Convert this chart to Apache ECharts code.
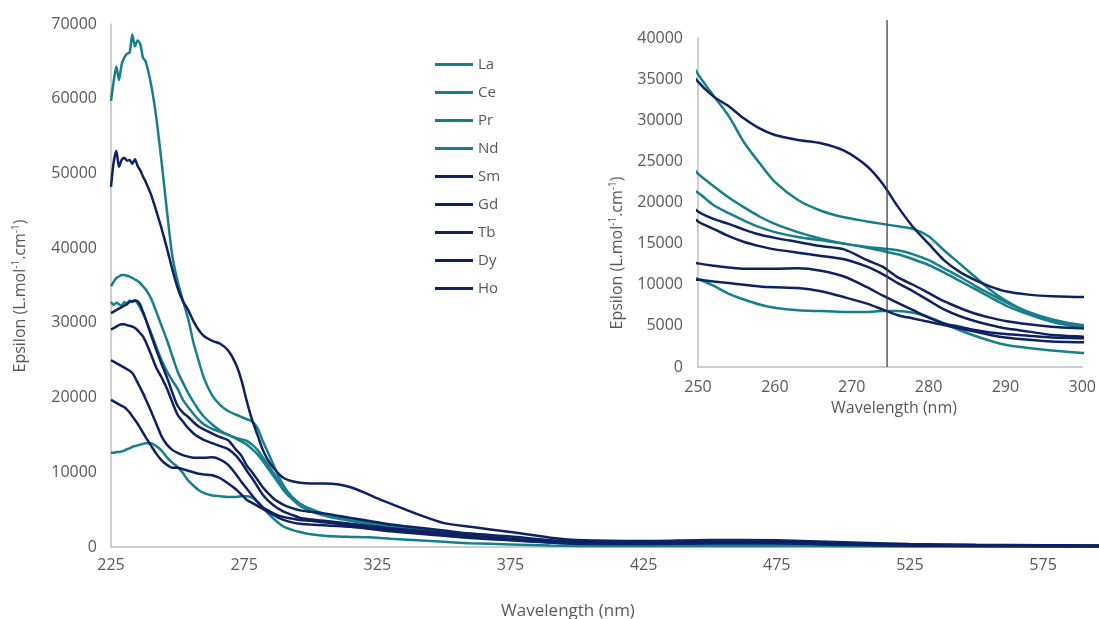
<!DOCTYPE html>
<html><head><meta charset="utf-8">
<script src="https://cdn.jsdelivr.net/npm/echarts@6/dist/echarts.min.js"></script>
<style>html,body{margin:0;padding:0;background:#fff}#c{width:1099px;height:619px}</style>
</head><body><div id="c"></div>
<script>
// Wavelength grid (nm)
const wavelengths = [225,226,227,228,229,230,231,232,233,234,235,236,237,238,240,242,244,246,248,
  250,252,254,256,258,260,263,266,269,272,274,276,278,280,282,284,286,288,290,293,296,300,
  305,310,315,320,325,330,340,350,360,375,390,400,425,450,475,500,525,550,575,600];

// Epsilon values (L.mol-1.cm-1)
const La = [59700,62300,64300,62500,64600,65500,66000,66200,68600,67000,67800,67300,65500,65000,62000,57500,51500,45000,39000,
  35600,33000,30500,27300,24800,22500,20300,19000,18200,17700,17400,17100,16800,15900,14200,12600,11000,9400,8100,6600,5700,5100,
  4400,3900,3600,3300,3000,2800,2400,2000,1600,1100,700,550,400,450,400,300,200,150,120,100];
const Ce = [34900,35500,36000,36200,36400,36400,36300,36200,36000,35800,35600,35300,34900,34500,33300,31500,29600,27700,25600,
  23500,22000,20600,19400,18300,17400,16400,15600,15000,14600,14400,14200,13700,13000,12000,11000,9900,8900,7900,6700,5800,5000,
  4400,4000,3700,3400,3200,2900,2400,2000,1500,1000,650,500,450,550,500,350,250,180,150,120];
const Pr = [32800,32400,32700,32500,32300,32800,32600,33000,32800,33000,32600,32000,31300,30500,28700,26800,25000,23500,22300,
  21200,19700,18700,17800,17000,16400,15800,15400,15000,14500,14100,13700,13100,12400,11500,10500,9500,8500,7500,6400,5500,4800,
  4200,3800,3500,3200,3000,2700,2200,1800,1400,950,600,450,350,450,400,300,200,150,120,100];
const Nd = [12600,12600,12700,12700,12800,12900,13100,13200,13400,13500,13600,13700,13800,13900,13900,13500,12900,12000,11300,
  10700,9900,8900,8200,7600,7200,6900,6800,6700,6700,6800,6800,6600,6100,5300,4500,3800,3200,2700,2300,2000,1700,
  1500,1400,1350,1300,1250,1100,900,700,500,350,200,150,120,150,150,100,80,60,50,50];
const Sm = [48200,51500,53000,50900,51800,52100,51700,51800,51300,51900,51000,50400,49600,48900,47200,45000,42600,40000,37200,
  34700,32900,31700,30200,29000,28200,27600,27200,26300,24400,22300,19500,17000,15000,13000,11600,10600,9800,9200,8800,8600,8500,
  8500,8400,8000,7300,6500,5800,4400,3200,2700,2000,1250,950,800,950,900,650,400,300,250,200];
const Gd = [31300,31500,31700,31900,32100,32300,32500,32800,32900,33000,32900,32400,31500,30500,28400,26400,24500,22700,20700,
  18900,18000,17400,16700,16100,15700,15200,14700,14300,13000,12200,10900,10000,9000,8000,7200,6500,6000,5600,5200,4900,4700,
  4500,4200,3900,3600,3300,3000,2600,2200,1800,1400,900,700,600,700,700,500,300,220,180,150];
const Tb = [29100,29300,29500,29700,29800,29800,29700,29600,29500,29300,29000,28600,28200,27500,25800,24000,22700,21200,19400,
  17700,16800,15900,15200,14700,14300,13900,13500,13100,12200,11300,10200,9200,8100,7000,6200,5600,5100,4700,4300,3900,3700,
  3500,3300,3100,2900,2700,2500,2200,1900,1500,1100,700,550,500,600,600,400,250,180,150,120];
const Dy = [25000,24800,24600,24400,24200,24000,23800,23600,23300,22700,22000,21300,20600,19800,18200,16500,14800,13700,13000,
  12600,12300,12100,11950,11950,11950,12000,11700,11000,9700,8700,7800,6900,6000,5300,4900,4500,4200,4000,3800,3600,3500,
  3300,3100,2900,2700,2500,2300,2000,1700,1300,1000,650,500,450,550,550,350,220,160,130,100];
const Ho = [19700,19500,19300,19100,18900,18700,18400,18000,17500,17000,16500,15900,15300,14700,13600,12500,11600,11000,10600,
  10600,10400,10200,10000,9800,9700,9600,9200,8500,7700,7000,6300,5900,5500,5100,4700,4300,3900,3600,3300,3100,3000,
  2900,2800,2700,2500,2300,2100,1800,1500,1200,900,600,450,400,500,500,300,200,150,120,100];

const seriesNames = ['La','Ce','Pr','Nd','Sm','Gd','Tb','Dy','Ho'];
const seriesValues = [La, Ce, Pr, Nd, Sm, Gd, Tb, Dy, Ho];
const mainXLabels = [225,275,325,375,425,475,525,575];
const insetMarkerWavelength = 274.6;

const TEAL = '#177E8C', NAVY = '#0E2262';
const seriesColors = [TEAL, TEAL, TEAL, TEAL, NAVY, NAVY, NAVY, NAVY, NAVY];
const LABEL = '#595959';
const FONT = '"Open Sans", "Noto Sans", sans-serif';

const chart = echarts.init(document.getElementById('c'), null, {renderer: 'canvas'});

const series = [];
seriesNames.forEach((name, i) => {
  const pts = wavelengths.map((w, k) => [w, seriesValues[i][k]]);
  series.push({name, type: 'line', xAxisIndex: 0, yAxisIndex: 0, data: pts, showSymbol: false, symbol: 'none',
    smooth: 0.25, lineStyle: {width: 2.5, color: seriesColors[i]}, itemStyle: {color: seriesColors[i]}, z: 2 + i});
  series.push({name, type: 'line', xAxisIndex: 1, yAxisIndex: 1, data: pts, showSymbol: false, symbol: 'none',
    smooth: 0.25, lineStyle: {width: 2.5, color: seriesColors[i]}, itemStyle: {color: seriesColors[i]}, z: 2 + i});
});
series.push({name: 'marker', type: 'line', xAxisIndex: 1, yAxisIndex: 1, clip: false, symbol: 'none',
  data: [[insetMarkerWavelength, 0], [insetMarkerWavelength, 42200]],
  lineStyle: {width: 1.3, color: '#404040'}, z: 20, silent: true});

const yTitle = '{a|Epsilon (L.mol}{s|-1}{a|.cm}{s|-1}{a|)}';
const titleRich = (fs) => ({a: {fontSize: fs, fontFamily: FONT, color: LABEL},
                            s: {fontSize: Math.round(fs*0.62), fontFamily: FONT, color: LABEL, padding: [0,0,Math.round(fs*0.5),0]}});
const plain = v => String(v);

chart.setOption({
  animation: false,
  backgroundColor: '#fff',
  grid: [
    {left: 111, right: 0, top: 24, bottom: 72},
    {left: 698, right: 13, top: 38, bottom: 252}
  ],
  xAxis: [
    {type: 'value', gridIndex: 0, min: 225, max: 596, interval: 25,
      axisLine: {lineStyle: {color: '#BFBFBF', width: 1.5}}, axisTick: {show: false}, splitLine: {show: false},
      axisLabel: {color: LABEL, fontSize: 16, fontFamily: FONT, margin: 10, showMaxLabel: false,
        formatter: v => (mainXLabels.indexOf(v) >= 0 ? String(v) : '')}},
    {type: 'value', gridIndex: 1, min: 250, max: 300, interval: 10,
      axisLine: {lineStyle: {color: '#BFBFBF', width: 1.5}}, axisTick: {show: false}, splitLine: {show: false},
      axisLabel: {color: LABEL, fontSize: 16, fontFamily: FONT, margin: 12, formatter: plain}}
  ],
  yAxis: [
    {type: 'value', gridIndex: 0, min: 0, max: 70000, interval: 10000,
      axisLine: {show: true, lineStyle: {color: '#BFBFBF', width: 1.5}}, axisTick: {show: false}, splitLine: {show: false},
      axisLabel: {color: LABEL, fontSize: 16, fontFamily: FONT, margin: 14, formatter: plain}},
    {type: 'value', gridIndex: 1, min: 0, max: 40000, interval: 5000,
      axisLine: {show: true, lineStyle: {color: '#BFBFBF', width: 1.5}}, axisTick: {show: false}, splitLine: {show: false},
      axisLabel: {color: LABEL, fontSize: 16, fontFamily: FONT, margin: 15, formatter: plain}}
  ],
  legend: {
    data: seriesNames, orient: 'vertical', left: 430, top: 52,
    icon: 'rect', itemWidth: 38, itemHeight: 3, itemGap: 13,
    textStyle: {color: LABEL, fontSize: 15, fontFamily: FONT},
    selectedMode: false
  },
  graphic: [
    {type: 'text', x: 20, y: 296, rotation: Math.PI/2,
      style: {text: yTitle, rich: titleRich(16), align: 'center', verticalAlign: 'middle', fill: LABEL}},
    {type: 'text', x: 568, y: 611,
      style: {text: 'Wavelength (nm)', font: '17px ' + FONT, align: 'center', verticalAlign: 'middle', fill: LABEL}},
    {type: 'text', x: 617, y: 253, rotation: Math.PI/2,
      style: {text: yTitle, rich: titleRich(16), align: 'center', verticalAlign: 'middle', fill: LABEL}},
    {type: 'text', x: 894, y: 408,
      style: {text: 'Wavelength (nm)', font: '16px ' + FONT, align: 'center', verticalAlign: 'middle', fill: LABEL}}
  ],
  series
});
</script></body></html>
